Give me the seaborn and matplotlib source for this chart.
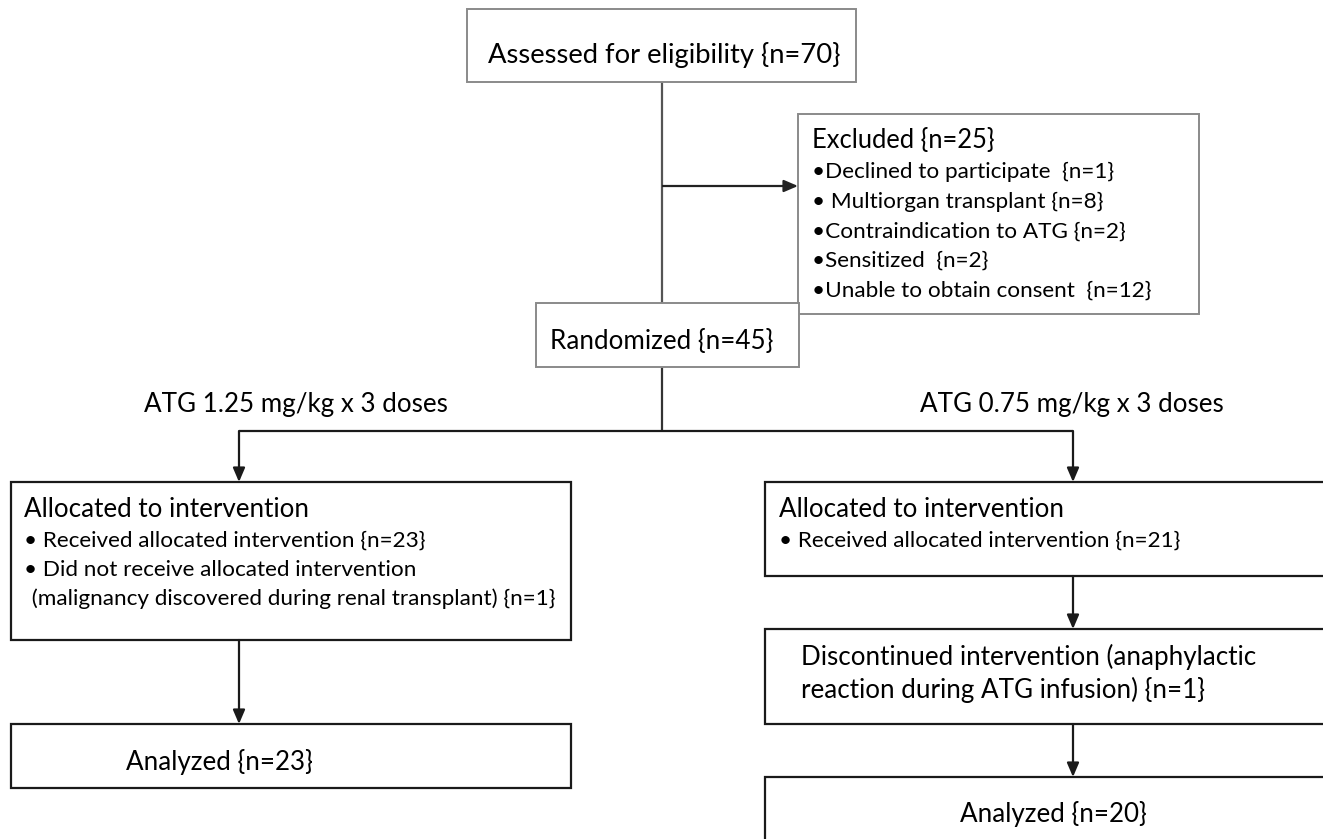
import matplotlib
matplotlib.use("Agg")
import matplotlib.pyplot as plt
from matplotlib.patches import Rectangle
import seaborn as sns

# CONSORT flow for the ATG dose trial
n_assessed = 70
n_excluded = 25
n_randomized = 45

excluded_reasons = ["•Declined to participate  ", "• Multiorgan transplant ",
                    "•Contraindication to ATG ", "•Sensitized  ",
                    "•Unable to obtain consent  "]
excluded_counts = [1, 8, 2, 2, 12]

arm_labels = ["ATG 1.25 mg/kg x 3 doses", "ATG 0.75 mg/kg x 3 doses"]
received_counts = [23, 21]
not_received_high = 1      # malignancy discovered during renal transplant
discontinued_low = 1       # anaphylactic reaction during ATG infusion
analyzed_counts = [23, 20]

sns.set_theme(style="white")
plt.rcParams['font.family'] = ['Lato', 'DejaVu Sans']

fig = plt.figure(figsize=(13.23, 8.39), dpi=100)
ax = fig.add_axes([0, 0, 1, 1])
ax.set_xlim(0, 1323)
ax.set_ylim(839, 0)
ax.axis('off')

GREY = '#8a8a8a'
DARK = '#1a1a1a'
BIG = 18.7
SMALL = 16.2


def box(x0, y0, x1, y1, color=DARK, lw=1.6):
    ax.add_patch(Rectangle((x0, y0), x1 - x0, y1 - y0, facecolor='white',
                           edgecolor=color, lw=lw, zorder=2))


def line(xs, ys, color=DARK, lw=1.6):
    ax.plot(xs, ys, color=color, lw=lw, zorder=1, solid_capstyle='butt')


def arrow(x0, y0, x1, y1, color=DARK, lw=1.6):
    ax.annotate('', xy=(x1, y1), xytext=(x0, y0),
                arrowprops=dict(arrowstyle='-|>,head_length=0.7,head_width=0.3',
                                color=color, lw=lw, shrinkA=0, shrinkB=0),
                zorder=3)


def txt(x, y, s, size=BIG, ha='left'):
    ax.text(x, y, s, fontsize=size, ha=ha, va='baseline', color='black', zorder=4)


# top part (grey boxes)
line([662, 662], [82, 303], color='#555555')
line([662, 790], [186, 186], color='#222222')
arrow(785, 186, 798, 186, color='#222222')
box(467, 9, 856, 82, color=GREY, lw=1.4)
txt(488, 63, f"Assessed for eligibility {{n={n_assessed}}}", size=19.7)

box(798, 114, 1199, 314, color=GREY, lw=1.4)
txt(812, 148, f"Excluded {{n={n_excluded}}}", size=18.4)
for i, (reason, cnt) in enumerate(zip(excluded_reasons, excluded_counts)):
    txt(812, 178 + i * 29.6, f"{reason}{{n={cnt}}}", size=SMALL)

box(536, 303, 799, 367, color=GREY, lw=1.4)
txt(550, 349, f"Randomized {{n={n_randomized}}}")

# split into arms
line([662, 662], [367, 431], color='#333333')
line([239, 1073], [431, 431])
arrow(239, 431, 239, 482)
arrow(1073, 431, 1073, 482)
txt(296, 412, arm_labels[0], ha='center')
txt(1072, 412, arm_labels[1], ha='center')

# high dose arm
box(11, 482, 571, 640)
txt(24, 517, "Allocated to intervention")
txt(24, 547, f"• Received allocated intervention {{n={received_counts[0]}}}", size=SMALL)
txt(24, 576, "• Did not receive allocated intervention", size=SMALL)
txt(26, 605, f" (malignancy discovered during renal transplant) {{n={not_received_high}}}", size=SMALL)
arrow(239, 640, 239, 724)
box(11, 724, 571, 788)
txt(219, 770, f"Analyzed {{n={analyzed_counts[0]}}}", ha='center')

# low dose arm
box(765, 482, 1340, 576)
txt(779, 517, "Allocated to intervention")
txt(779, 547, f"• Received allocated intervention {{n={received_counts[1]}}}", size=SMALL)
arrow(1073, 576, 1073, 629)
box(765, 629, 1340, 724)
txt(801, 665, "Discontinued intervention (anaphylactic")
txt(801, 698, f"reaction during ATG infusion) {{n={discontinued_low}}}")
arrow(1073, 724, 1073, 777)
box(765, 777, 1340, 850)
txt(1053, 822, f"Analyzed {{n={analyzed_counts[1]}}}", ha='center')

fig.savefig("out.png", dpi=100, facecolor='white')
